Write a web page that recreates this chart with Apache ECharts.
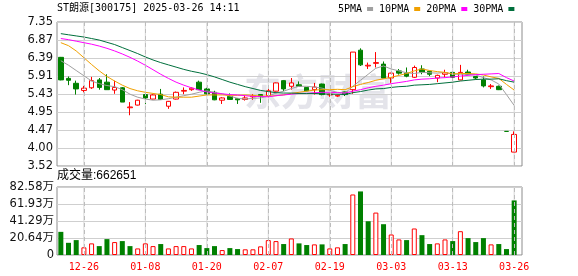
<!DOCTYPE html>
<html><head><meta charset="utf-8">
<script src="https://cdn.jsdelivr.net/npm/echarts@6/dist/echarts.min.js"></script>
<style>html,body{margin:0;padding:0;background:#fff}#c{width:578px;height:276px}</style>
</head><body><div id="c"></div>
<script>
const dates = ['12-23','12-24','12-25','12-26','12-27','12-30','12-31','01-02','01-03','01-06',
'01-07','01-08','01-09','01-10','01-13','01-14','01-15','01-16','01-17','01-20',
'01-21','01-22','01-23','01-24','01-27','02-05','02-06','02-07','02-10','02-11',
'02-12','02-13','02-14','02-17','02-18','02-19','02-20','02-21','02-24','02-25',
'02-26','02-27','02-28','03-03','03-04','03-05','03-06','03-07','03-10','03-11',
'03-12','03-13','03-14','03-17','03-18','03-19','03-20','03-21','03-25','03-26'];
const tickDates = ['12-26','01-08','01-20','02-07','02-19','03-03','03-13','03-26'];
const opens  = [6.41,5.85,5.72,5.53,5.60,5.81,5.75,5.54,5.60,5.07,5.14,5.42,5.30,5.43,5.11,5.30,5.51,5.55,5.75,5.57,
5.48,5.27,5.37,5.31,5.29,5.36,5.42,5.39,5.51,5.79,5.64,5.68,5.61,5.55,5.70,5.41,5.38,5.49,5.55,6.60,
6.18,6.25,6.23,5.86,6.05,5.99,5.88,6.10,6.04,5.86,5.96,6.01,5.81,6.02,5.90,5.81,5.63,5.64,4.44,3.89];
const closes = [5.81,5.80,5.57,5.59,5.79,5.61,5.55,5.61,5.22,5.09,5.27,5.33,5.41,5.29,5.24,5.48,5.53,5.59,5.55,5.44,
5.28,5.33,5.29,5.28,5.33,5.38,5.37,5.52,5.73,5.57,5.73,5.64,5.52,5.62,5.42,5.43,5.40,5.42,6.55,6.21,
6.20,6.27,5.86,5.99,5.99,5.91,6.14,6.02,5.96,5.93,6.00,5.88,6.01,5.96,5.86,5.65,5.65,5.55,4.44,4.36];
const lows   = [5.80,5.67,5.42,5.48,5.57,5.55,5.55,5.44,5.22,4.87,5.13,5.17,5.29,5.28,5.04,5.29,5.43,5.52,5.55,5.42,
5.27,5.17,5.28,5.17,5.26,5.28,5.20,5.35,5.50,5.51,5.55,5.64,5.51,5.42,5.40,5.36,5.36,5.38,5.44,6.18,
6.10,6.14,5.86,5.73,5.95,5.88,5.86,5.96,5.91,5.75,5.88,5.75,5.80,5.94,5.82,5.61,5.57,5.54,4.44,3.89];
const highs  = [6.42,5.90,5.79,5.65,5.89,5.86,5.96,5.79,5.62,5.22,5.28,5.46,5.43,5.57,5.25,5.50,5.61,5.61,5.79,5.60,
5.52,5.35,5.45,5.33,5.40,5.43,5.43,5.57,5.74,5.80,5.86,5.77,5.62,5.73,5.71,5.44,5.42,5.50,6.55,6.65,
6.27,6.55,6.30,6.00,6.10,6.14,6.19,6.20,6.05,5.95,6.08,6.02,6.21,6.08,5.91,5.90,5.70,5.66,4.44,4.44];
const ma5  = [6.32,6.20,6.06,5.92,5.78,5.71,5.66,5.63,5.55,5.43,5.35,5.30,5.27,5.28,5.31,5.35,5.39,5.43,5.48,5.52,
5.48,5.44,5.38,5.32,5.30,5.32,5.33,5.38,5.46,5.51,5.58,5.64,5.64,5.62,5.59,5.53,5.48,5.46,5.64,5.80,
5.96,6.12,6.18,6.10,6.05,6.00,5.98,6.01,6.00,5.99,6.01,5.96,5.96,5.96,5.94,5.87,5.81,5.70,5.42,5.13];
const ma10 = [6.80,6.72,6.58,6.40,6.22,6.05,5.90,5.78,5.67,5.58,5.52,5.48,5.45,5.42,5.36,5.35,5.35,5.35,5.38,5.41,
5.41,5.41,5.40,5.40,5.41,5.40,5.38,5.38,5.39,5.41,5.45,5.48,5.51,5.54,5.55,5.55,5.56,5.55,5.63,5.69,
5.74,5.80,5.84,5.88,5.93,5.98,6.05,6.10,6.06,6.03,6.01,5.97,5.98,5.98,5.97,5.94,5.89,5.85,5.69,5.54];
const ma20 = [6.91,6.88,6.84,6.80,6.76,6.71,6.65,6.58,6.50,6.41,6.31,6.20,6.08,5.96,5.85,5.75,5.67,5.60,5.54,5.49,
5.46,5.44,5.42,5.41,5.39,5.37,5.37,5.36,5.39,5.41,5.43,5.45,5.45,5.47,5.48,5.48,5.47,5.46,5.51,5.55,
5.60,5.64,5.67,5.71,5.74,5.77,5.81,5.83,5.84,5.86,5.87,5.89,5.91,5.93,5.95,5.96,5.97,5.98,5.87,5.78];
const ma30 = [7.04,7.01,6.98,6.95,6.91,6.87,6.81,6.75,6.67,6.59,6.51,6.42,6.34,6.27,6.21,6.15,6.09,6.04,6.00,5.95,
5.89,5.82,5.75,5.69,5.63,5.58,5.53,5.50,5.47,5.46,5.46,5.45,5.45,5.45,5.44,5.43,5.43,5.42,5.47,5.50,
5.54,5.57,5.58,5.61,5.63,5.64,5.67,5.68,5.69,5.71,5.73,5.75,5.78,5.80,5.82,5.83,5.83,5.84,5.79,5.75];
const volumes = [281000,148000,181000,93000,141000,108000,193000,157000,169000,108000,
80000,141000,108000,133000,80000,108000,108000,80000,121000,84000,
108000,60000,84000,72000,69000,69000,105000,181000,169000,133000,
201000,141000,121000,129000,129000,80000,93000,133000,735000,772000,
410000,515000,374000,249000,189000,181000,322000,241000,133000,141000,
189000,169000,289000,205000,157000,205000,129000,133000,72000,662651];
const volUp = [0,0,0,1,1,0,0,1,0,0,1,1,1,0,1,1,1,1,0,0,
0,1,0,0,1,1,1,1,1,0,1,0,0,1,0,1,1,0,1,0,
0,1,0,1,1,0,1,0,0,1,1,0,1,0,0,0,1,0,0,0];
const priceTicks = ['3.52','4.00','4.47','4.95','5.43','5.91','6.39','6.87','7.35'];
const volTicks = ['0','20.64万','41.29万','61.93万','82.58万'];
const seriesNames = ['5PMA','10PMA','20PMA','30PMA'];
const maColors = ['#a0a0a0','#f0a000','#ff00ff','#006f3c'];
const titleText = 'ST朗源[300175] 2025-03-26 14:11';

const pMin = 3.52, pMax = 7.35, pInt = (7.35 - 3.52) / 8;
const vMax = 825800, vInt = vMax / 4;
const UP = '#ff0000', DOWN = '#008000';
const GUIDE = '#bdbdbd';
const mono = "'DejaVu Sans Mono','Noto Sans CJK SC',monospace";
const lblFont = "'DejaVu Sans','Noto Sans CJK SC',sans-serif";
const tickIdx = tickDates.map(d => dates.indexOf(d));
const isTick = (i) => tickIdx.indexOf(i) >= 0;

const chart = echarts.init(document.getElementById('c'), null, {renderer: 'canvas'});
const kdata = dates.map((d, i) => [opens[i], closes[i], lows[i], highs[i]]);
const vdata = volumes.map((v, i) => ({
  value: v,
  itemStyle: volUp[i] ? {color: '#fff', borderColor: UP, borderWidth: 1} : {color: DOWN, borderColor: DOWN, borderWidth: 0}
}));
const mas = [ma5, ma10, ma20, ma30];
const guideP = dates.map((d, i) => isTick(i) ? pMax : '-');
const guideV = dates.map((d, i) => isTick(i) ? vMax : '-');
const guideMarks = () => ({
  symbol: ['none', 'none'], silent: true, animation: false,
  label: {show: false},
  lineStyle: {color: GUIDE, type: [4, 3], width: 1},
  data: tickDates.map(d => ({xAxis: d}))
});

const catAxis = (g, showLabel, h) => ({
  type: 'category', gridIndex: g, data: dates, boundaryGap: true,
  axisLine: {show: false}, splitLine: {show: false},
  axisTick: {show: true, inside: true, length: h, alignWithLabel: true, interval: isTick,
    lineStyle: {color: GUIDE, type: [4, 3], width: 1}},
  axisLabel: {show: showLabel, interval: isTick, color: '#ff0000', fontFamily: mono, fontSize: 10, margin: 7}
});
const hiddenCat = (g) => ({type: 'category', gridIndex: g, data: dates, boundaryGap: true, show: false});

chart.setOption({
  animation: false,
  backgroundColor: '#fff',
  title: [
    {text: titleText, left: 57, top: 3, padding: 0, textStyle: {fontFamily: mono, fontSize: 10, fontWeight: 'normal', color: '#000'}},
    {text: '成交量:' + volumes[volumes.length - 1], left: 57, top: 170, padding: 0, textStyle: {fontFamily: "'Liberation Sans','Noto Sans CJK SC',sans-serif", fontSize: 12, fontWeight: 'normal', color: '#000'}}
  ],
  legend: {
    data: seriesNames, left: 338, top: 4, padding: 0, itemGap: 6, itemWidth: 6, itemHeight: 4,
    icon: 'rect', align: 'right', textStyle: {fontFamily: mono, fontSize: 10, color: '#000'}
  },
  graphic: [{
    type: 'text', left: 244, top: 73, z: -1, silent: true,
    style: {text: '东方财富', fill: '#e4e4ea', font: "bold 37px 'Noto Sans CJK SC'"}
  }],
  grid: [
    {left: 57, top: 22, width: 461, height: 144},
    {left: 57, top: 187, width: 461, height: 68},
    {left: 57, top: 22, width: 465, height: 144, show: true, borderColor: '#8c8c8c', borderWidth: 1, backgroundColor: 'rgba(0,0,0,0)'},
    {left: 57, top: 187, width: 465, height: 68, show: true, borderColor: '#8c8c8c', borderWidth: 1, backgroundColor: 'rgba(0,0,0,0)'}
  ],
  xAxis: [
    catAxis(0, false, 144),
    catAxis(1, true, 68),
    {type: 'value', gridIndex: 2, show: false},
    {type: 'value', gridIndex: 3, show: false},
    hiddenCat(0),
    hiddenCat(1)
  ],
  yAxis: [
    {type: 'value', gridIndex: 0, min: pMin, max: pMax, interval: pInt, show: false},
    {type: 'value', gridIndex: 1, min: 0, max: vMax, interval: vInt, show: false},
    {type: 'value', gridIndex: 2, min: pMin, max: pMax, interval: pInt,
      axisLine: {show: false}, axisTick: {show: false},
      axisLabel: {margin: 4, color: '#111', fontFamily: lblFont, fontSize: 11.5,
        formatter: (v) => priceTicks[Math.round((v - pMin) / pInt)] || ''},
      splitLine: {show: true, lineStyle: {color: '#cfcfcf', width: 1}}},
    {type: 'value', gridIndex: 3, min: 0, max: vMax, interval: vInt,
      axisLine: {show: false}, axisTick: {show: false},
      axisLabel: {margin: 3, color: '#111', fontFamily: lblFont, fontSize: 11.5,
        formatter: (v) => volTicks[Math.round(v / vInt)] || ''},
      splitLine: {show: true, lineStyle: {color: '#cfcfcf', width: 1}}}
  ],
  series: [
    {type: 'bar', xAxisIndex: 4, yAxisIndex: 0, data: guideP, barWidth: 1, z: 1, silent: true,
      itemStyle: {color: '#d6d6d6'}},
    {type: 'bar', xAxisIndex: 5, yAxisIndex: 1, data: guideV, barWidth: 1, z: 1, silent: true,
      itemStyle: {color: '#d6d6d6'}},
    {type: 'candlestick', xAxisIndex: 0, yAxisIndex: 0, data: kdata, barWidth: 5, z: 2,
      itemStyle: {color: '#fff', color0: DOWN, borderColor: UP, borderColor0: DOWN, borderWidth: 1},
      markLine: guideMarks()},
    ...mas.map((m, k) => ({
      type: 'line', name: seriesNames[k], xAxisIndex: 0, yAxisIndex: 0, data: m,
      symbol: 'none', showSymbol: false, color: maColors[k],
      lineStyle: {color: maColors[k], width: 1}, z: 3
    })),
    {type: 'bar', xAxisIndex: 1, yAxisIndex: 1, data: vdata, barWidth: 5, z: 2, markLine: guideMarks()}
  ]
});
</script></body></html>
